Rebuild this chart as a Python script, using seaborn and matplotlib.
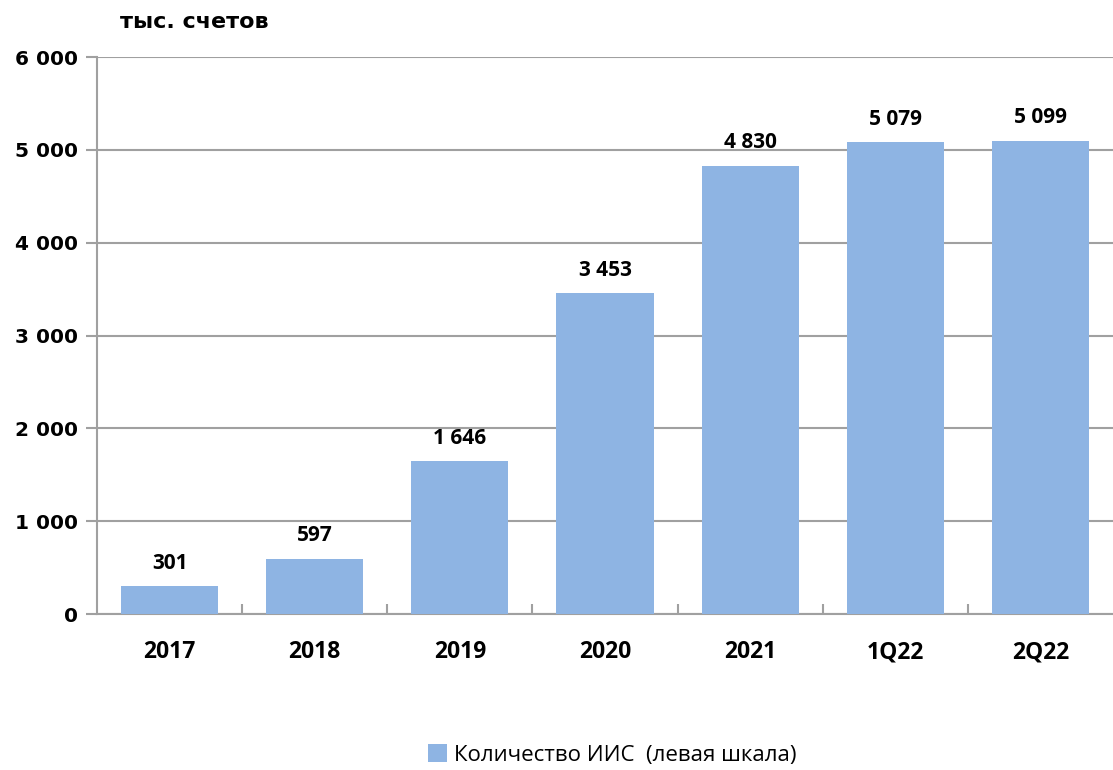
import matplotlib
matplotlib.use("Agg")
import matplotlib.pyplot as plt
from matplotlib.patches import Patch
from matplotlib.ticker import FixedLocator
import seaborn as sns
import pandas as pd

# Число индивидуальных инвестиционных счетов, тыс.
periods = ["2017", "2018", "2019", "2020", "2021", "1Q22", "2Q22"]
accounts = [301, 597, 1646, 3453, 4830, 5079, 5099]
y_ticks = [0, 1000, 2000, 3000, 4000, 5000, 6000]

bar_color = "#8EB4E3"
grid_color = "#A0A0A0"

sns.set_theme(style="white")
plt.rcParams["font.family"] = ["DejaVu Sans"]
plt.rcParams["text.color"] = "black"
plt.rcParams["xtick.color"] = "black"
plt.rcParams["ytick.color"] = "black"

label_family = ["Open Sans", "DejaVu Sans"]


def thin_space_fmt(v):
    return f"{int(v):,}".replace(",", " ")


df = pd.DataFrame({"period": periods, "accounts": accounts})

fig = plt.figure(figsize=(11.13, 7.7), dpi=100)
ax = fig.add_axes([97 / 1113, 1 - 614 / 770, 1 - 97 / 1113, (614 - 57) / 770])

sns.barplot(data=df, x="period", y="accounts", color=bar_color, width=0.67,
            saturation=1, linewidth=0, ax=ax, zorder=3)

ax.set_xlim(-0.5, 6.5)
ax.set_ylim(0, 6000)
ax.set_yticks(y_ticks)
ax.set_yticklabels([thin_space_fmt(v) for v in y_ticks],
                   fontsize=14.5, fontweight="bold", color="black",
                   family="DejaVu Sans")
ax.set_xticks(range(len(periods)))
ax.set_xticklabels(periods, fontsize=16.5, fontweight="bold",
                   family=label_family, color="black")
ax.set_xlabel("")
ax.set_ylabel("")

ax.yaxis.grid(True, color=grid_color, linewidth=1.5, zorder=0)
ax.xaxis.grid(False)
for side in ("top", "right"):
    ax.spines[side].set_visible(False)
for side in ("left", "bottom"):
    ax.spines[side].set_color(grid_color)
    ax.spines[side].set_linewidth(1.5)

ax.tick_params(axis="y", which="major", left=True, length=8, width=1.5,
               color=grid_color, direction="out", pad=6)
ax.tick_params(axis="x", which="major", bottom=False, pad=13)
ax.xaxis.set_minor_locator(FixedLocator([i + 0.5 for i in range(len(periods) - 1)]))
ax.tick_params(axis="x", which="minor", bottom=True, length=7, width=1.5,
               color=grid_color, direction="in")

for i, v in enumerate(accounts):
    ax.annotate(thin_space_fmt(v), (i, v), xytext=(0, 9),
                textcoords="offset points", ha="center", va="bottom",
                fontsize=15, fontweight="bold", family=label_family,
                color="black")

fig.text(120 / 1113, 1 - 22 / 770, "тыс. счетов", fontsize=16,
         fontweight="bold", family="DejaVu Sans", ha="left", va="center",
         color="black")

handle = Patch(facecolor=bar_color, edgecolor="none")
leg = fig.legend([handle], ["Количество ИИС  (левая шкала)"],
                 loc="center", bbox_to_anchor=(612 / 1113, 1 - 755 / 770),
                 frameon=False, handlelength=0.85, handleheight=0.85,
                 handletextpad=0.3,
                 prop={"family": label_family, "size": 16})
for t in leg.get_texts():
    t.set_color("black")

fig.savefig("out.png", dpi=100)
